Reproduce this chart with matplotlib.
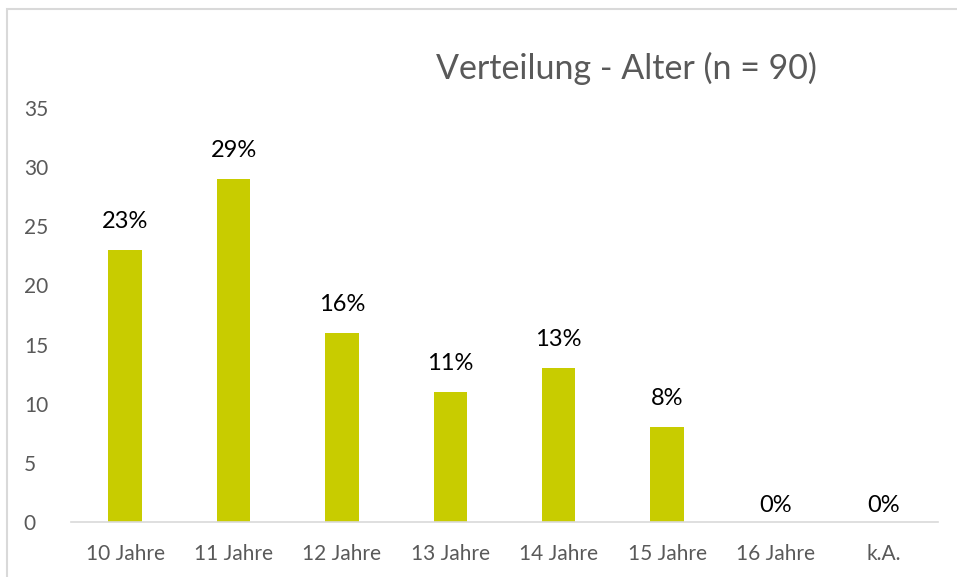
import matplotlib
matplotlib.use("Agg")
import matplotlib.pyplot as plt
from matplotlib.patches import Rectangle

categories = ["10 Jahre", "11 Jahre", "12 Jahre", "13 Jahre", "14 Jahre", "15 Jahre", "16 Jahre", "k.A."]
values = [23, 29, 16, 11, 13, 8, 0, 0]
labels = ["23%", "29%", "16%", "11%", "13%", "8%", "0%", "0%"]
yticks = [0, 5, 10, 15, 20, 25, 30, 35]

plt.rcParams['font.family'] = ['Lato', 'DejaVu Sans']

W, H = 957, 577
fig = plt.figure(figsize=(W / 100, H / 100), dpi=100)
fig.patches.append(Rectangle((7 / W, -0.2), 1.2, 1.2 - 9 / H, transform=fig.transFigure,
                             fill=False, edgecolor="#D9D9D9", linewidth=1.5))

ax = fig.add_axes([71 / W, 1 - 522 / H, (938 - 71) / W, (522 - 108) / H])
x = list(range(len(categories)))
ax.bar(x, values, width=0.31, color="#C8CC00")
ax.set_xlim(-0.5, len(categories) - 0.5)
ax.set_ylim(0, 35)
ax.set_yticks(yticks)
ax.set_xticks(x)
ax.set_xticklabels(categories)
for s in ["top", "right", "left"]:
    ax.spines[s].set_visible(False)
ax.spines["bottom"].set_color("#D9D9D9")
ax.spines["bottom"].set_linewidth(1.2)
ax.tick_params(axis="both", length=0, colors="#595959", labelsize=15)
ax.tick_params(axis="x", pad=16)
ax.tick_params(axis="y", pad=34)
for lab in ax.get_yticklabels():
    lab.set_horizontalalignment("left")
for xi, v, l in zip(x, values, labels):
    ax.annotate(l, (xi, v), xytext=(0, 13 if v > 0 else 4), textcoords="offset points",
                ha="center", va="bottom", fontsize=17, color="black")

fig.text(626 / W, 1 - 68 / H, "Verteilung - Alter (n = 90)", ha="center", va="center",
         fontsize=24.5, color="#595959")

fig.savefig("out.png", dpi=100)
